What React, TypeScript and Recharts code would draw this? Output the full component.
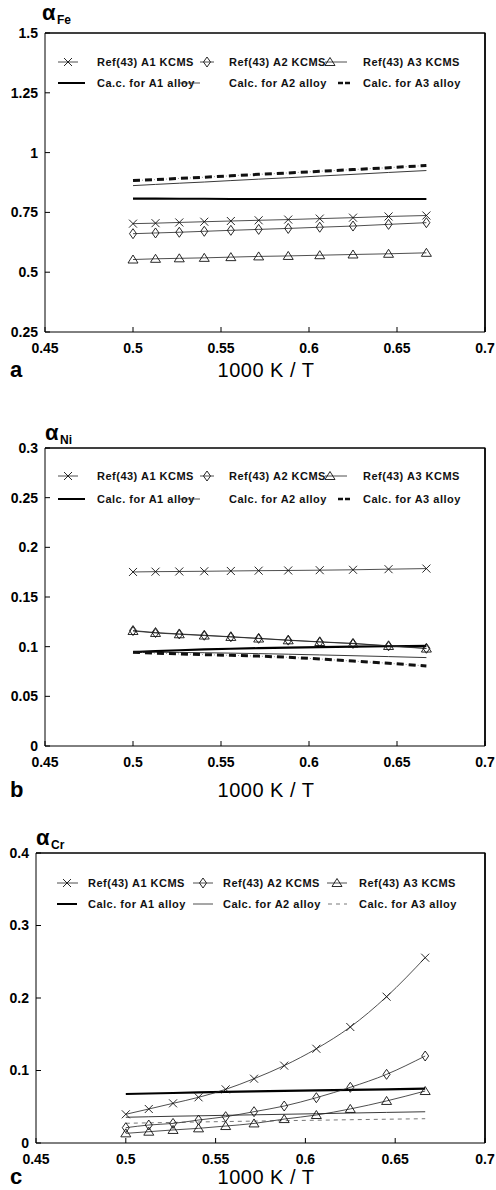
import React from 'react';
import { LineChart, Line, XAxis, YAxis, ReferenceLine, Legend } from 'recharts';

// 1000 K / T for T = 2000 ... 1500 K
const invT = [0.5, 0.5128, 0.5263, 0.5405, 0.5556, 0.5714, 0.5882, 0.6061, 0.625, 0.6452, 0.6667];
const xTicks = [0.45, 0.5, 0.55, 0.6, 0.65, 0.7];

// panel a : a_Fe
const feRefA1 = [0.703, 0.705, 0.708, 0.711, 0.714, 0.717, 0.72, 0.724, 0.728, 0.733, 0.737];
const feRefA2 = [0.661, 0.664, 0.667, 0.671, 0.675, 0.679, 0.683, 0.688, 0.693, 0.7, 0.707];
const feRefA3 = [0.553, 0.556, 0.558, 0.56, 0.563, 0.566, 0.568, 0.571, 0.574, 0.577, 0.581];
const feCalcA1 = [0.808, 0.808, 0.807, 0.807, 0.806, 0.806, 0.806, 0.806, 0.806, 0.806, 0.806];
const feCalcA2 = [0.862, 0.867, 0.872, 0.877, 0.883, 0.889, 0.895, 0.902, 0.909, 0.917, 0.925];
const feCalcA3 = [0.883, 0.887, 0.892, 0.897, 0.903, 0.909, 0.915, 0.922, 0.929, 0.937, 0.946];
const feTicks = [0.25, 0.5, 0.75, 1, 1.25, 1.5];

// panel b : a_Ni
const niRefA1 = [0.1752, 0.1755, 0.1757, 0.1759, 0.1762, 0.1765, 0.1767, 0.177, 0.1774, 0.178, 0.1786];
const niRefA2 = [0.1162, 0.1142, 0.1128, 0.1115, 0.11, 0.1084, 0.1066, 0.1049, 0.1033, 0.1009, 0.0984];
const niRefA3 = [0.1158, 0.1138, 0.1125, 0.1112, 0.1098, 0.1082, 0.1064, 0.1047, 0.1031, 0.1007, 0.0981];
const niCalcA1 = [0.0945, 0.0955, 0.0964, 0.0972, 0.0979, 0.0985, 0.0991, 0.0996, 0.1, 0.1004, 0.1007];
const niCalcA2 = [0.0945, 0.0944, 0.0942, 0.0939, 0.0935, 0.093, 0.0924, 0.0917, 0.0909, 0.09, 0.089];
const niCalcA3 = [0.0945, 0.0935, 0.0927, 0.092, 0.0913, 0.0905, 0.0893, 0.0876, 0.0855, 0.0833, 0.0806];
const niTicks = [0, 0.05, 0.1, 0.15, 0.2, 0.25, 0.3];

// panel c : a_Cr
const crRefA1 = [0.0396, 0.0469, 0.0547, 0.063, 0.074, 0.0887, 0.1067, 0.13, 0.16, 0.2018, 0.2556];
const crRefA2 = [0.0211, 0.0248, 0.027, 0.0317, 0.0363, 0.0432, 0.051, 0.0625, 0.0768, 0.0947, 0.12];
const crRefA3 = [0.0133, 0.0156, 0.018, 0.0202, 0.0234, 0.027, 0.033, 0.0386, 0.047, 0.058, 0.0717];
const crCalcA1 = [0.0676, 0.0683, 0.069, 0.0697, 0.0704, 0.0711, 0.0718, 0.0725, 0.0733, 0.0741, 0.075];
const crCalcA2 = [0.0355, 0.0362, 0.0369, 0.0375, 0.0382, 0.0389, 0.0396, 0.0404, 0.0413, 0.0422, 0.0431];
const crCalcA3 = [0.0272, 0.0278, 0.0284, 0.029, 0.0296, 0.0302, 0.0308, 0.0314, 0.0321, 0.0328, 0.0335];
const crTicks = [0, 0.1, 0.2, 0.3, 0.4];

const refLabels = ['Ref(43) A1 KCMS', 'Ref(43) A2 KCMS', 'Ref(43) A3 KCMS'];
const calcLabelsFe = ['Ca.c. for A1 alloy', 'Calc. for A2 alloy', 'Calc. for A3 alloy'];
const calcLabels = ['Calc. for A1 alloy', 'Calc. for A2 alloy', 'Calc. for A3 alloy'];

const FONT = "'Liberation Sans', Arial, Helvetica, sans-serif";

const build = (r1: number[], r2: number[], r3: number[], c1: number[], c2: number[], c3: number[]) =>
  invT.map((x, i) => ({ x, r1: r1[i], r2: r2[i], r3: r3[i], c1: c1[i], c2: c2[i], c3: c3[i] }));

const cross = (cx: number, cy: number, k?: any) => (
  <g key={k}>
    <line x1={cx - 4} y1={cy - 4} x2={cx + 4} y2={cy + 4} stroke="#111" strokeWidth={0.9} />
    <line x1={cx - 4} y1={cy + 4} x2={cx + 4} y2={cy - 4} stroke="#111" strokeWidth={0.9} />
  </g>
);
const diamond = (cx: number, cy: number, k?: any) => (
  <polygon key={k} points={`${cx},${cy - 5} ${cx + 3.5},${cy} ${cx},${cy + 5} ${cx - 3.5},${cy}`} fill="none" stroke="#111" strokeWidth={0.9} />
);
const triangle = (cx: number, cy: number, k?: any) => (
  <polygon key={k} points={`${cx},${cy - 4.5} ${cx + 5},${cy + 3.5} ${cx - 5},${cy + 3.5}`} fill="none" stroke="#111" strokeWidth={0.9} />
);

const dotOf = (fn: typeof cross) => (p: any) =>
  p.cx == null || p.cy == null ? <g key={`n-${p.index}`} /> : fn(p.cx, p.cy, `d-${p.index}`);

interface PanelProps {
  top: number;
  height: number;
  yWidth: number;
  marginTop: number;
  xHeight: number;
  yTicks: number[];
  data: ReturnType<typeof build>;
  calc: string[];
  textX: number[];
  rowY: number[];
  sym: number[][]; // [x1, x2, marker] per legend item
  thinA3: boolean;
  smooth: boolean;
}

const LegendBox = ({ calc, textX, rowY, sym, thinA3 }: PanelProps) => {
  const markers = [cross, diamond, triangle];
  return (
    <svg width={496} height={120} style={{ display: 'block' }}>
      {refLabels.map((lab, i) => {
        const [a, b, m] = sym[i];
        return (
          <g key={`r${i}`}>
            <line x1={a} x2={b} y1={rowY[0]} y2={rowY[0]} stroke="#222" strokeWidth={0.8} />
            {markers[i](m, rowY[0])}
            <text x={textX[i]} y={rowY[0] + 4} fontSize={11} fontWeight="bold" letterSpacing={0.5} fontFamily={FONT} fill="#111">
              {lab}
            </text>
          </g>
        );
      })}
      {calc.map((lab, i) => {
        const [a, b] = sym[i + 3];
        const y = rowY[1];
        return (
          <g key={`c${i}`}>
            {i === 0 && <line x1={a} x2={b} y1={y} y2={y} stroke="#000" strokeWidth={2} />}
            {i === 1 && <line x1={a} x2={b} y1={y} y2={y} stroke="#222" strokeWidth={0.8} />}
            {i === 2 &&
              (thinA3 ? (
                <line x1={a} x2={b} y1={y} y2={y} stroke="#555" strokeWidth={0.8} strokeDasharray="4 4" />
              ) : (
                <line x1={a} x2={b} y1={y} y2={y} stroke="#111" strokeWidth={2.6} strokeDasharray="5 2" />
              ))}
            <text x={textX[i]} y={y + 4} fontSize={11} fontWeight="bold" letterSpacing={0.5} fontFamily={FONT} fill="#111">
              {lab}
            </text>
          </g>
        );
      })}
    </svg>
  );
};

const Panel = (props: PanelProps) => {
  const { top, height, yWidth, marginTop, xHeight, yTicks, data, thinA3, smooth } = props;
  const yDomain = [yTicks[0], yTicks[yTicks.length - 1]];
  const tickStyle = { fill: '#000', fontSize: 14, fontWeight: 'bold', fontFamily: FONT };
  const refType = smooth ? 'monotone' : 'linear';
  return (
    <div style={{ position: 'absolute', left: 0, top }}>
      <LineChart width={496} height={height} data={data} margin={{ top: marginTop, right: 0, bottom: 0, left: 0 }}>
        <XAxis
          dataKey="x"
          type="number"
          domain={[0.45, 0.7]}
          ticks={xTicks}
          height={xHeight}
          stroke="#000"
          tickSize={-5}
          tickMargin={16}
          tick={tickStyle}
          tickFormatter={(v) => String(v)}
        />
        <YAxis
          type="number"
          domain={yDomain}
          ticks={yTicks}
          width={yWidth}
          stroke="#000"
          tickSize={-5}
          tickMargin={12}
          tick={tickStyle}
          tickFormatter={(v) => String(v)}
        />
        <YAxis
          yAxisId="r"
          orientation="right"
          type="number"
          domain={yDomain}
          ticks={yTicks}
          width={11}
          stroke="#000"
          tickSize={-5}
          tickFormatter={() => ''}
        />
        <ReferenceLine y={yDomain[1]} stroke="#000" />
        <ReferenceLine x={0.7} stroke="#000" />
        <Legend
          layout="horizontal"
          verticalAlign="middle"
          align="center"
          wrapperStyle={{ top: 0, left: 0, width: 496, height: 120 }}
          content={() => <LegendBox {...props} />}
        />
        <Line dataKey="c1" type="linear" stroke="#000" strokeWidth={2.2} dot={false} isAnimationActive={false} />
        <Line dataKey="c2" type="linear" stroke="#222" strokeWidth={0.9} dot={false} isAnimationActive={false} />
        {thinA3 ? (
          <Line dataKey="c3" type="linear" stroke="#555" strokeWidth={0.8} strokeDasharray="4 4" dot={false} isAnimationActive={false} />
        ) : (
          <Line dataKey="c3" type="linear" stroke="#666" strokeWidth={0.7} strokeDasharray="1 2" dot={false} isAnimationActive={false} />
        )}
        {!thinA3 && (
          <Line dataKey="c3" name="c3dash" type="linear" stroke="#111" strokeWidth={3} strokeDasharray="7 5" dot={false} isAnimationActive={false} />
        )}
        <Line dataKey="r1" type={refType} stroke="#222" strokeWidth={0.8} dot={dotOf(cross)} isAnimationActive={false} />
        <Line dataKey="r2" type={refType} stroke="#222" strokeWidth={0.8} dot={dotOf(diamond)} isAnimationActive={false} />
        <Line dataKey="r3" type={refType} stroke="#222" strokeWidth={0.8} dot={dotOf(triangle)} isAnimationActive={false} />
      </LineChart>
    </div>
  );
};

const Label = ({ x, y, sub, letter, titleY }: { x: number; y: number; sub: string; letter: string; titleY: number }) => (
  <g fontFamily={FONT} fill="#000">
    <text x={x} y={y} fontSize={22} fontWeight="bold">α</text>
    <text x={x + 15} y={y + 4} fontSize={12} fontWeight="bold">{sub}</text>
    <text x={10} y={titleY} fontSize={22} fontWeight="bold">{letter}</text>
    <text x={266} y={titleY} fontSize={20} letterSpacing={0.5} textAnchor="middle">1000 K / T</text>
  </g>
);

// plot frames: [left, top, right, bottom] of each panel's plotting box
const frames = [
  [45, 33, 485, 332],
  [45, 448, 485, 746],
  [36, 853, 485, 1143],
];

export default function App() {
  const symAB = [
    [58, 78, 68],
    [200, 214, 207],
    [325, 347, 330],
    [58, 85],
    [180, 200],
    [338, 352],
  ];
  const symC = [
    [57, 78, 67],
    [193, 213, 203],
    [327, 347, 337],
    [57, 77],
    [193, 213],
    [328, 347],
  ];
  return (
    <div style={{ position: 'absolute', left: 0, top: 0, width: 496, height: 1190, background: '#fff' }}>
      <Panel
        top={0}
        height={390}
        yWidth={45}
        marginTop={33}
        xHeight={58}
        yTicks={feTicks}
        data={build(feRefA1, feRefA2, feRefA3, feCalcA1, feCalcA2, feCalcA3)}
        calc={calcLabelsFe}
        textX={[97, 229, 363]}
        rowY={[62, 83]}
        sym={symAB}
        thinA3={false}
        smooth={false}
      />
      <Panel
        top={400}
        height={400}
        yWidth={45}
        marginTop={48}
        xHeight={54}
        yTicks={niTicks}
        data={build(niRefA1, niRefA2, niRefA3, niCalcA1, niCalcA2, niCalcA3)}
        calc={calcLabels}
        textX={[97, 229, 363]}
        rowY={[76, 99]}
        sym={symAB}
        thinA3={false}
        smooth={false}
      />
      <Panel
        top={800}
        height={390}
        yWidth={36}
        marginTop={53}
        xHeight={47}
        yTicks={crTicks}
        data={build(crRefA1, crRefA2, crRefA3, crCalcA1, crCalcA2, crCalcA3)}
        calc={calcLabels}
        textX={[88, 223, 359]}
        rowY={[83, 104]}
        sym={symC}
        thinA3={true}
        smooth={true}
      />
      <svg width={496} height={1190} style={{ position: 'absolute', left: 0, top: 0, pointerEvents: 'none' }}>
        {frames.map(([l, t, r, b], i) => (
          <polyline key={i} points={`${l},${t} ${r},${t} ${r},${b}`} fill="none" stroke="#000" strokeWidth={1.2} />
        ))}
        <Label x={42} y={20} sub="Fe" letter="a" titleY={377} />
        <Label x={45} y={440} sub="Ni" letter="b" titleY={797} />
        <Label x={36} y={845} sub="Cr" letter="c" titleY={1184} />
      </svg>
    </div>
  );
}
